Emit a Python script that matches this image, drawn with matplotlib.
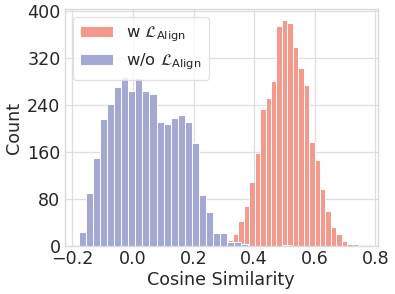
import numpy as np
import matplotlib
matplotlib.use("Agg")
import matplotlib.pyplot as plt

# histogram counts
# w/o L_Align (blue), bin width ~0.0233 starting at -0.178
blue_start = -0.1782
blue_width = 0.02327
blue_counts = [24, 90, 150, 217, 243, 272, 288, 265, 286, 265,
               260, 212, 208, 219, 223, 212, 175, 87, 58, 22,
               23, 6, 6, 3, 0, 0, 0, 0, 0, 1]

# w L_Align (red), bin width ~0.0179 starting at 0.312
red_start = 0.3120
red_width = 0.01794
red_counts = [11, 21, 42, 69, 109, 159, 233, 252, 282, 376,
              385, 381, 340, 303, 275, 177, 147, 97, 60, 33,
              21, 8, 4, 3, 2]

xticks = [-0.2, 0.0, 0.2, 0.4, 0.6, 0.8]
yticks = [0, 80, 160, 240, 320, 400]

red_color = "#F39A8C"
blue_color = "#A3A9D3"
text_color = "#262626"

plt.rcParams["font.family"] = "DejaVu Sans"
plt.rcParams["mathtext.fontset"] = "dejavusans"

fig = plt.figure(figsize=(3.95, 2.94), dpi=100)
ax = fig.add_axes([0.1638, 0.1633, 0.7924, 0.8061])


def draw_hist(start, width, counts, color, label):
    counts = np.array(counts, dtype=float)
    edges = start + width * np.arange(len(counts))
    keep = counts > 0
    ax.bar(edges[keep], counts[keep], width=width, align="edge",
           color=color, edgecolor="white", linewidth=0.7, label=label, zorder=2)


draw_hist(red_start, red_width, red_counts, red_color, r"w $\mathcal{L}_{\mathrm{Align}}$")
draw_hist(blue_start, blue_width, blue_counts, blue_color, r"w/o $\mathcal{L}_{\mathrm{Align}}$")

ax.set_xticks(xticks)
ax.set_yticks(yticks)
ax.tick_params(axis="both", length=0, labelsize=12.6, labelcolor=text_color, pad=3)
ax.grid(True, color="#dedede", linewidth=0.9, zorder=0)
ax.set_axisbelow(True)
for sp in ax.spines.values():
    sp.set_color("#d9d9d9")
    sp.set_linewidth(1.0)

ax.set_xlabel("Cosine Similarity", fontsize=12.6, color=text_color, labelpad=2)
ax.set_ylabel("Count", fontsize=12.6, color=text_color, labelpad=3)

leg = ax.legend(loc="upper left", fontsize=11.8, frameon=True, fancybox=True,
                handlelength=2.0, handleheight=0.7, labelspacing=0.45, borderpad=0.45)
leg.get_frame().set_edgecolor("#d9d9d9")
leg.get_frame().set_linewidth(0.9)
for t in leg.get_texts():
    t.set_color(text_color)

fig.savefig("out.png", dpi=100)
